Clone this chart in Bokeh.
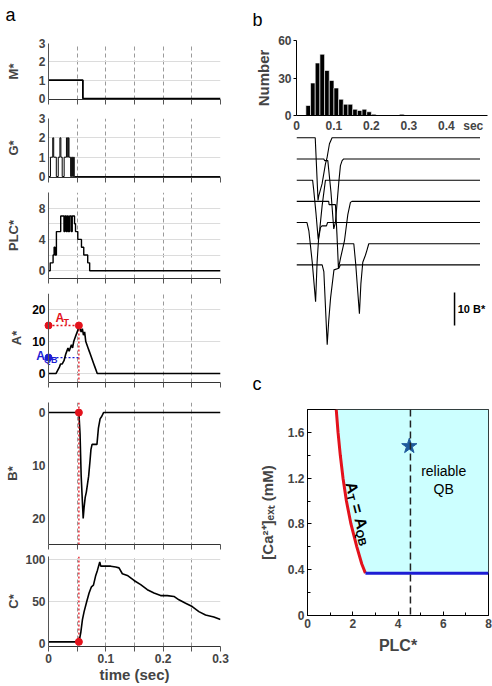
import math
from bokeh.plotting import figure
from bokeh.layouts import row, column
from bokeh.models import Range1d, FixedTicker, Span
from bokeh.embed import file_html
from bokeh.resources import INLINE
from bokeh.core.properties import value

FONT = "Liberation Sans"
RED = "#e3121c"
BLUE = "#1d1dd4"

# ---------------- panel a data ----------------
time_major_ticks = [0, 0.1, 0.2, 0.3]
time_minor_ticks = [0.05, 0.15, 0.25]
time_grid_ticks = [0.05, 0.1, 0.15, 0.2, 0.25]

m_time = [0.0, 0.060, 0.3]
m_vals = [1, 0, 0]

g_time = [0.0, 0.0034, 0.0074, 0.0091, 0.0136, 0.017, 0.0199, 0.0216, 0.0239, 0.0273,
          0.0313, 0.0335, 0.0345, 0.0358, 0.0386, 0.0403, 0.042, 0.0438, 0.0449, 0.3]
g_vals = [0, 1, 2, 1, 0, 1, 2, 1, 0, 1,
          2, 1, 2, 1, 0, 1, 0, 1, 0, 0]

plc_time = [0.0, 0.003, 0.008, 0.0098, 0.0115, 0.0138, 0.0213, 0.027, 0.0287, 0.031,
            0.0328, 0.0345, 0.0368, 0.0397, 0.0414, 0.0454, 0.0471, 0.0511, 0.0575, 0.0615,
            0.0684, 0.0718, 0.3]
plc_vals = [0, 1, 2, 3, 2, 5, 7, 5, 7, 5,
            7, 5, 7, 5, 7, 6, 5, 4, 3, 2,
            1, 0, 0]

a_time = [0.0, 0.013, 0.016, 0.019, 0.021, 0.024, 0.027, 0.030, 0.032, 0.034,
          0.036, 0.038, 0.040, 0.042, 0.044, 0.046, 0.048, 0.050, 0.052, 0.053,
          0.055, 0.057, 0.059, 0.061, 0.063, 0.065, 0.067, 0.069, 0.071, 0.073,
          0.075, 0.077, 0.079, 0.081, 0.083, 0.085, 0.3]
a_vals = [0, 0, 1, 2, 3, 3, 4, 6, 7, 8,
          7, 8, 9, 8, 10, 11, 12, 13, 14, 15,
          14, 13, 14, 12, 13, 10, 9, 8, 7, 6,
          5, 4, 3, 2, 1, 0, 0]
a_ticks = [0, 10, 20]

b_time = [0.0, 0.053, 0.055, 0.057, 0.0605, 0.062, 0.064, 0.066, 0.068, 0.070,
          0.0725, 0.074, 0.076, 0.0845, 0.087, 0.090, 0.093, 0.096, 0.3]
b_vals = [0, 0, 4, 12, 20, 18, 16, 15, 13.5, 12,
          9, 7, 6, 6, 3, 1.2, 0.7, 0, 0]

c_time = [0.0, 0.05, 0.053, 0.0563, 0.0592, 0.0621, 0.0667, 0.0708, 0.0749, 0.0784,
          0.0824, 0.0853, 0.0894, 0.0911, 0.0969, 0.1085, 0.1172, 0.123, 0.1288, 0.1375,
          0.1492, 0.1608, 0.1724, 0.184, 0.1956, 0.2072, 0.2188, 0.2275, 0.2391, 0.2507,
          0.2623, 0.2739, 0.2884, 0.3]
c_vals = [2, 2, 1, 13, 28.5, 38, 50, 60, 67.5, 69.5,
          81, 87, 97, 92, 92, 92, 91, 90, 83, 81,
          75, 70, 64, 60, 57, 57, 56, 52, 48, 44,
          38, 34, 31.5, 28.5]

threshold_time = 0.053
a_threshold = 15
a_qb = 5
b_at_threshold = 0
c_at_threshold = 2

# ---------------- panel b data ----------------
hist_bin_start = [0.025, 0.0375, 0.05, 0.0625, 0.075, 0.0875, 0.1, 0.1125, 0.125, 0.1375,
                  0.15, 0.1625, 0.175, 0.1875, 0.2, 0.275]
hist_bin_width = 0.0125
hist_counts = [8, 26, 42, 49, 36, 28, 22, 13, 9, 9, 5, 4, 5, 3, 1, 1]
hist_ticks = [0, 0.1, 0.2, 0.3, 0.4]
hist_unit_pos = 0.472

trace1_t = [0.0, 0.050, 0.0575, 0.0596, 0.0684, 0.0773, 0.0818, 0.088, 0.095, 0.49]
trace1_b = [0, 0, 19, 17.5, 13.9, 7.9, 5.9, 1.8, 0, 0]
trace2_t = [0.0, 0.073, 0.075, 0.0836, 0.092, 0.0995, 0.104, 0.1129, 0.1173, 0.1218, 0.126, 0.49]
trace2_b = [0, 0, 0.5, 0.5, 10, 21.2, 19.2, 7.1, 2, 0.5, 0, 0]
trace3_t = [0.0, 0.043, 0.046, 0.052, 0.058, 0.062, 0.0684, 0.0773, 0.49]
trace3_b = [0, 0, 3, 10, 18, 15, 7.8, 0, 0]
trace4_t = [0.0, 0.086, 0.087, 0.104, 0.108, 0.112, 0.118, 0.128, 0.137, 0.144, 0.148, 0.49]
trace4_b = [0, 0, 1, 1, 10, 20.3, 17, 12, 4, 0.3, 0, 0]
trace5_t = [0.0, 0.028, 0.033, 0.042, 0.051, 0.055, 0.059, 0.064, 0.068, 0.080, 0.083, 0.49]
trace5_b = [0, 0, 2.5, 12, 24, 12, 5, 1.5, 1, 1, 0, 0]
trace6_t = [0.0, 0.153, 0.158, 0.168, 0.172, 0.177, 0.184, 0.188, 0.193, 0.49]
trace6_b = [0, 0, 6, 21.2, 12, 5.6, 3.5, 2, 0, 0]
trace7_t = [0.0, 0.0685, 0.073, 0.082, 0.086, 0.091, 0.100, 0.113, 0.117, 0.49]
trace7_b = [0, 0, 2, 24.2, 17, 10, 1.5, 1, 0, 0]
trace_spacing = 6.42
scale_bar_time = 0.422
scale_bar_top = -46.9
scale_bar_len = 10

# ---------------- panel c data ----------------
boundary_plc = [1.27, 1.35, 1.45, 1.57, 1.72, 1.92, 2.18, 2.40, 2.56]
boundary_ca = [1.8, 1.6, 1.4, 1.2, 1.0, 0.8, 0.6, 0.45, 0.37]
ca_floor = 0.37
plc_max = 8
ca_max = 1.8
example_plc = 4.55
star_plc = 4.5
star_ca = 1.48

COMMON = dict(output_backend="svg", toolbar_location=None, frame_align=False, title=None)


def style_text_axis(ax, tick_size="12px"):
    ax.major_label_text_font = FONT
    ax.major_label_text_font_style = "bold"
    ax.major_label_text_font_size = tick_size
    ax.axis_label_text_font = FONT
    ax.axis_label_text_font_style = "bold"


def header(width, height, letter, lx, ly):
    h = figure(width=width, height=height, x_range=Range1d(0, 1), y_range=Range1d(0, 1),
               x_axis_location=None, y_axis_location=None, min_border=0, **COMMON)
    h.outline_line_color = None
    h.xgrid.visible = False
    h.ygrid.visible = False
    h.text(x=[lx], y=[ly], text=[letter], text_align="left", text_baseline="alphabetic",
           text_font=value(FONT), text_font_size="18px")
    return h


A_WIDTH = 240
A_LEFT = 48
PX_PER_SEC = 172 / 0.3


def make_a_panel(height, btop, bbottom, yr, yticks, gticks, ylabel, lstand,
                 xlabels=False, left=A_LEFT, x_start=0.0):
    p = figure(width=A_WIDTH, height=height, x_range=Range1d(x_start, 0.3), y_range=yr,
               min_border_left=left, min_border_right=20,
               min_border_top=btop, min_border_bottom=bbottom, **COMMON)
    p.outline_line_color = None
    xa = p.xaxis[0]
    xa.ticker = FixedTicker(ticks=time_major_ticks, minor_ticks=time_minor_ticks)
    xa.bounds = (0, 0.3)
    xa.major_tick_out = 5
    xa.major_tick_in = 0
    xa.minor_tick_out = 5
    xa.minor_tick_in = 0
    xa.axis_line_color = "#333333"
    xa.major_tick_line_color = "#555555"
    xa.minor_tick_line_color = "#555555"
    style_text_axis(xa)
    if xlabels:
        xa.major_label_overrides = {0: "0"}
        xa.major_label_standoff = 2
        xa.axis_label = "time (sec)"
        xa.axis_label_text_font_size = "15px"
        xa.axis_label_standoff = 0
    else:
        xa.major_label_text_color = None
        xa.major_label_text_font_size = "1px"
        xa.major_label_standoff = 0
    ya = p.yaxis[0]
    ya.ticker = FixedTicker(ticks=yticks)
    ya.major_tick_out = 0
    ya.major_tick_in = 0
    ya.minor_tick_out = 0
    ya.minor_tick_in = 0
    ya.axis_line_color = "#555555"
    style_text_axis(ya)
    ya.major_label_standoff = 3
    ya.axis_label = ylabel
    ya.axis_label_text_font_size = "13px"
    ya.axis_label_standoff = lstand
    p.xgrid.ticker = FixedTicker(ticks=time_grid_ticks)
    p.xgrid.grid_line_color = "#9a9a9a"
    p.xgrid.grid_line_dash = "4 3"
    if gticks:
        p.ygrid.ticker = FixedTicker(ticks=gticks)
        p.ygrid.grid_line_color = "#dcdcdc"
    else:
        p.ygrid.grid_line_color = None
    return p


hdr_a = header(A_WIDTH, 37, "a", 0.021, 0.595)

fig_m = make_a_panel(70, 6, 8, Range1d(-0.05, 3), [0, 1, 2, 3], [1, 2, 3], "M*", 15)
fig_m.step(m_time, m_vals, mode="after", line_color="black", line_width=1.8)

fig_g = make_a_panel(77, 11, 7, Range1d(-0.05, 3), [0, 1, 2, 3], [1, 2, 3], "G*", 15)
fig_g.step(g_time, g_vals, mode="after", line_color="black", line_width=1.0)

fig_plc = make_a_panel(103, 8, 9, Range1d(-1, 10), [0, 4, 8], [0, 2, 4, 6, 8, 10], "PLC*", 15)
fig_plc.step(plc_time, plc_vals, mode="after", line_color="black", line_width=1.4)

# A* panel: frame extends left of t=0 so that the A_QB label and the dots on the axis are not cut
A_PANEL_LEFT = 23
a_x_start = -(A_LEFT - A_PANEL_LEFT) / PX_PER_SEC
fig_a = make_a_panel(105, 6, 10, Range1d(-2.8, 25), [], None, "A*", 0,
                     left=A_PANEL_LEFT, x_start=a_x_start)
fig_a.yaxis[0].axis_line_color = None
fig_a.segment(x0=[0] * len(a_ticks), y0=a_ticks, x1=[0.3] * len(a_ticks), y1=a_ticks,
              line_color="#dcdcdc", line_width=1)
fig_a.add_layout(Span(location=0, dimension="height", line_color="#555555", line_width=1))
fig_a.text(x=[-3 / PX_PER_SEC] * len(a_ticks), y=a_ticks, text=[str(t) for t in a_ticks],
           text_align="right", text_baseline="middle", text_font=value(FONT),
           text_font_style="bold", text_font_size="12px")
fig_a.line([0, threshold_time], [a_threshold, a_threshold], line_color=RED, line_dash="2 2", line_width=1.3)
fig_a.line([0, threshold_time], [a_qb, a_qb], line_color=BLUE, line_dash="2 2", line_width=1.3)
fig_a.segment(x0=[threshold_time], y0=[a_threshold], x1=[threshold_time], y1=[-2.8],
              line_color=RED, line_dash="2 2", line_width=1.3)
fig_a.line(a_time, a_vals, line_color="black", line_width=1.6)
fig_a.text(x=[0.0122], y=[17.5], text=["A"], text_color=RED, text_baseline="alphabetic",
           text_font=value(FONT), text_font_style="bold", text_font_size="12px")
fig_a.text(x=[0.026], y=[16.2], text=["T"], text_color=RED, text_baseline="alphabetic",
           text_font=value(FONT), text_font_style="bold", text_font_size="9px")
fig_a.text(x=[-0.0212], y=[5.6], text=["A"], text_color=BLUE, text_baseline="alphabetic",
           text_font=value(FONT), text_font_style="bold", text_font_size="12px")
fig_a.text(x=[-0.0079], y=[4.3], text=["QB"], text_color=BLUE, text_baseline="alphabetic",
           text_font=value(FONT), text_font_style="bold", text_font_size="9px")
fig_a.scatter([0, threshold_time], [a_threshold, a_threshold], size=7, color=RED)
fig_a.scatter([0], [a_qb], size=7, color=BLUE)

fig_b = make_a_panel(158, 10, 6, Range1d(24.9, -1.9), [0, 10, 20], None, "B*", 9)
fig_b.add_layout(Span(location=threshold_time, dimension="height", line_color=RED,
                      line_dash="2 2", line_width=1.3))
fig_b.line(b_time, b_vals, line_color="black", line_width=1.6)
fig_b.scatter([threshold_time], [b_at_threshold], size=7, color=RED)

fig_c = make_a_panel(135, 6, 38, Range1d(-3.5, 103.5), [0, 50, 100], [50, 100], "C*", 1,
                     xlabels=True)
fig_c.segment(x0=[threshold_time], y0=[103.5], x1=[threshold_time], y1=[c_at_threshold],
              line_color=RED, line_dash="2 2", line_width=1.3)
fig_c.line(c_time, c_vals, line_color="black", line_width=1.6)
fig_c.scatter([threshold_time], [c_at_threshold], size=7, color=RED)

# ---------------- panel b ----------------
BC_WIDTH = 252
hdr_b = header(BC_WIDTH, 34, "b", 0.048, 0.441)

fig_h = figure(width=BC_WIDTH, height=101, x_range=Range1d(0, 0.51), y_range=Range1d(0, 60),
               min_border_left=56, min_border_right=5, min_border_top=6, min_border_bottom=20,
               **COMMON)
fig_h.outline_line_color = None
fig_h.grid.visible = False
fig_h.quad(left=hist_bin_start, right=[s + hist_bin_width for s in hist_bin_start],
           bottom=0, top=hist_counts, fill_color="black", line_color="white", line_width=0.6)
hx = fig_h.xaxis[0]
hx.ticker = FixedTicker(ticks=hist_ticks + [hist_unit_pos])
hx.major_label_overrides = {0: "0", hist_unit_pos: "sec"}
hx.major_tick_out = 0
hx.major_tick_in = 0
hx.minor_tick_out = 0
hx.minor_tick_in = 0
hx.major_label_standoff = 3
hx.axis_line_color = "black"
style_text_axis(hx)
hy = fig_h.yaxis[0]
hy.ticker = FixedTicker(ticks=[0, 30, 60])
hy.major_tick_out = 3
hy.major_tick_in = 0
hy.minor_tick_out = 0
hy.minor_tick_in = 0
hy.major_label_standoff = 2
hy.axis_line_color = "black"
style_text_axis(hy)
hy.axis_label = "Number"
hy.axis_label_text_font_size = "15px"
hy.axis_label_standoff = 3

fig_t = figure(width=BC_WIDTH, height=220, x_range=Range1d(0, 0.51), y_range=Range1d(-65.97, 0.7),
               x_axis_location=None, y_axis_location=None,
               min_border_left=56, min_border_right=5, min_border_top=0, min_border_bottom=0,
               **COMMON)
fig_t.outline_line_color = None
fig_t.xgrid.visible = False
fig_t.ygrid.visible = False
traces = [(trace1_t, trace1_b), (trace2_t, trace2_b), (trace3_t, trace3_b), (trace4_t, trace4_b),
          (trace5_t, trace5_b), (trace6_t, trace6_b), (trace7_t, trace7_b)]
for k, (tt, bb) in enumerate(traces):
    fig_t.line(tt, [-k * trace_spacing - v for v in bb], line_color="black", line_width=1.1)
fig_t.segment(x0=[scale_bar_time], y0=[scale_bar_top], x1=[scale_bar_time],
              y1=[scale_bar_top - scale_bar_len], line_color="black", line_width=1.5)
fig_t.text(x=[scale_bar_time + 0.0085], y=[scale_bar_top - scale_bar_len / 2], text=["10 B*"],
           text_baseline="middle", text_align="left", text_font=value(FONT),
           text_font_style="bold", text_font_size="11px")

# ---------------- panel c ----------------
hdr_c = header(BC_WIDTH, 40, "c", 0.048, 0.3)

fig_r = figure(width=BC_WIDTH, height=290, x_range=Range1d(0, plc_max), y_range=Range1d(0, ca_max),
               min_border_left=67, min_border_right=4, min_border_top=14, min_border_bottom=70,
               **COMMON)
fig_r.outline_line_color = "black"
fig_r.grid.visible = False
rx = fig_r.xaxis[0]
rx.ticker = FixedTicker(ticks=[0, 2, 4, 6, 8], minor_ticks=[1, 3, 5, 7])
ry = fig_r.yaxis[0]
ry.ticker = FixedTicker(ticks=[0, 0.4, 0.8, 1.2, 1.6], minor_ticks=[0.2, 0.6, 1.0, 1.4, 1.8])
ry.major_label_overrides = {0: "0"}
for ax in (rx, ry):
    ax.major_tick_in = 4
    ax.major_tick_out = 0
    ax.minor_tick_in = 3
    ax.minor_tick_out = 0
    ax.axis_line_color = "black"
    ax.major_label_standoff = 3
    style_text_axis(ax)
rx.axis_label = "PLC*"
rx.axis_label_text_font_size = "16px"
rx.axis_label_standoff = 6
ry.axis_label = "[Ca²⁺]ₑₓₜ (mM)"
ry.axis_label_text_font_size = "15px"
ry.axis_label_standoff = 9

fig_r.patch(boundary_plc + [plc_max, plc_max], boundary_ca + [ca_floor, ca_max],
            fill_color="#ccffff", line_color=None)
fig_r.line(boundary_plc, boundary_ca, line_color=RED, line_width=3)
fig_r.line([boundary_plc[-1], plc_max], [ca_floor, ca_floor], line_color=BLUE, line_width=3)
fig_r.add_layout(Span(location=example_plc, dimension="height", line_color="#222222",
                      line_dash="7 4", line_width=1.5))
fig_r.scatter([star_plc], [star_ca], marker="star", size=16, fill_color="#1f5a9c",
              line_color="#1f5a9c")
fig_r.text(x=[6.02, 6.02], y=[1.26, 1.107], text=["reliable", "QB"], text_align="center",
           text_baseline="middle", text_font=value(FONT), text_font_size="14px")

px_x = 181 / plc_max
px_y = 206 / ca_max
theta = math.radians(-75.5)
dirx, diry = math.cos(theta), math.sin(theta)
perx, pery = math.sin(theta), -math.cos(theta)
anchor_x, anchor_y = 1.90, 1.165
pieces = [("A", 0, 0, "16px"), ("T", 11.6, 3.5, "11px"), ("=", 22.8, 0, "16px"),
          ("A", 36.6, 0, "16px"), ("QB", 48.2, 3.5, "11px")]
for txt, s, q, size in pieces:
    fig_r.text(x=[anchor_x + (s * dirx + q * perx) / px_x],
               y=[anchor_y + (s * diry + q * pery) / px_y],
               text=[txt], angle=theta, text_align="left", text_baseline="middle",
               text_font=value(FONT), text_font_style="bold", text_font_size=size)

layout = row(column(hdr_a, fig_m, fig_g, fig_plc, fig_a, fig_b, fig_c),
             column(hdr_b, fig_h, fig_t, hdr_c, fig_r))

open("out.html", "w").write(file_html(layout, INLINE))
